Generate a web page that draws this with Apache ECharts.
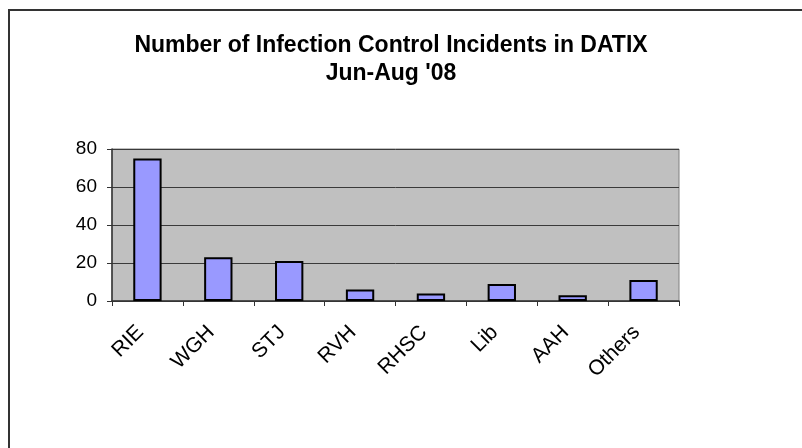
<!DOCTYPE html>
<html>
<head>
<meta charset="utf-8">
<script src="https://cdn.jsdelivr.net/npm/echarts@6/dist/echarts.min.js"></script>
<style>
  html, body { margin: 0; padding: 0; background: #fff; }
  #app { width: 802px; height: 448px; }
</style>
</head>
<body>
<div id="app"></div>
<script>
// 数据
const categories = ['RIE', 'WGH', 'STJ', 'RVH', 'RHSC', 'Lib', 'AAH', 'Others'];
const incidents = [75, 23, 21, 6, 4, 9, 3, 11];
const yTicks = [0, 20, 40, 60, 80];

const chart = echarts.init(document.getElementById('app'));
const font = 'Liberation Sans, Arial, sans-serif';

chart.setOption({
  animation: false,
  title: {
    text: "Number of Infection Control Incidents in DATIX\nJun-Aug '08",
    left: 386,
    top: 27,
    textAlign: 'center',
    textStyle: { fontFamily: font, fontSize: 23, fontWeight: 'bold', color: '#000', lineHeight: 28 }
  },
  graphic: [{
    type: 'rect',
    shape: { x: 9, y: 10, width: 820, height: 460 },
    style: { fill: null, stroke: '#333', lineWidth: 2 },
    z: -1
  }],
  grid: {
    left: 112, top: 149, right: 123, bottom: 147,
    show: true,
    backgroundColor: '#c0c0c0',
    borderColor: '#808080',
    borderWidth: 1
  },
  xAxis: {
    type: 'category',
    data: categories,
    axisLine: { lineStyle: { color: '#333', width: 1.5 } },
    axisTick: { show: true, length: 5, lineStyle: { color: '#333' } },
    axisLabel: {
      rotate: 45, margin: 21, padding: [0, 10, 0, 0],
      fontFamily: font, fontSize: 21, color: '#000'
    }
  },
  yAxis: {
    type: 'value',
    min: yTicks[0],
    max: yTicks[yTicks.length - 1],
    interval: 20,
    axisLine: { show: true, lineStyle: { color: '#333', width: 1.5 } },
    axisTick: { show: true, length: 5, lineStyle: { color: '#333' } },
    splitLine: { lineStyle: { color: '#3a3a3a', width: 1 } },
    axisLabel: { margin: 15, fontFamily: font, fontSize: 19, color: '#000' }
  },
  series: [{
    type: 'bar',
    data: incidents,
    barWidth: '40%',
    itemStyle: { color: '#9999ff', borderColor: '#000', borderWidth: 2 }
  }]
});
</script>
</body>
</html>
